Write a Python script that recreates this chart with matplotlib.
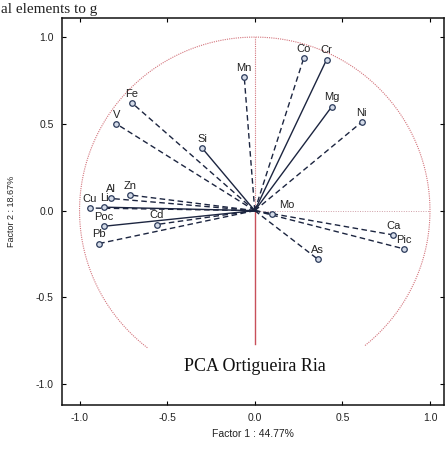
import numpy as np
import matplotlib
matplotlib.use("Agg")
import matplotlib.pyplot as plt

# ---- data (factor loadings) ----
variables = ['Mn', 'Fe', 'V', 'Si', 'Zn', 'Al', 'Cu', 'Li', 'Poc', 'Cd', 'Pb',
             'Co', 'Cr', 'Mg', 'Ni', 'Mo', 'Ca', 'Pic', 'As']
factor1 = [-0.06, -0.70, -0.79, -0.30, -0.71, -0.82, -0.94, -0.86, -0.86, -0.56, -0.89,
           0.28, 0.41, 0.44, 0.61, 0.10, 0.79, 0.85, 0.36]
factor2 = [0.77, 0.62, 0.50, 0.36, 0.09, 0.07, 0.015, 0.02, -0.09, -0.08, -0.19,
           0.88, 0.87, 0.60, 0.51, -0.02, -0.14, -0.22, -0.28]
solid_vars = ['Si', 'Cr', 'Mg', 'Poc', 'Li']

x_ticks = [-1.0, -0.5, 0.0, 0.5, 1.0]
y_ticks = [-1.0, -0.5, 0.0, 0.5, 1.0]
x_label = 'Factor 1 : 44.77%'
y_label = 'Factor 2 : 18.67%'
title_text = 'PCA Ortigueira Ria'
page_text = 'al elements to g'

plt.rcParams['font.family'] = ['Liberation Sans', 'DejaVu Sans']

fig = plt.figure(figsize=(4.46, 4.54), dpi=100)
ax = fig.add_axes([62 / 446, (454 - 405) / 454, (444 - 62) / 446, 387 / 454])
ax.set_xlim(-1.1, 1.08)
ax.set_ylim(-1.12, 1.11)

red = '#c8505a'
# unit circle (dotted), with gap at the bottom
th = np.radians(np.linspace(-51, 232.5, 400))
ax.plot(np.cos(th), np.sin(th), color=red, lw=0.8, ls=(0, (1, 1)), alpha=0.8, zorder=1)
# axes through the origin
ax.plot([0, 0], [0, 1.0], color=red, lw=0.8, ls=(0, (1, 1)), alpha=0.8, zorder=1)
ax.plot([0, 0], [0, -0.77], color=red, lw=1.0, zorder=1)
ax.plot([0, 1.0], [0, 0], color='#d0a0a8', lw=0.7, ls=(0, (1, 1.5)), zorder=1)

line_col = '#1c2540'
for name, fx, fy in zip(variables, factor1, factor2):
    ls = '-' if name in solid_vars else (0, (4, 2.5))
    ax.plot([0, fx], [0, fy], color=line_col, lw=1.0, ls=ls, zorder=2)
    ax.plot([fx], [fy], marker='o', ms=4, mfc='#d4dbe8', mec='#2b3a5a', mew=0.9,
            ls='none', zorder=3)
    dx = 0.0
    if name == 'Mo':
        dx = 0.06
    ax.annotate(name, (fx, fy), xytext=(dx * 175, 3), textcoords='offset points',
                ha='center', va='bottom', fontsize=8, color='#222222', zorder=4)

ax.text(0.0, -0.9, title_text, family=['Liberation Serif', 'DejaVu Serif'],
        fontsize=13, ha='center', va='center', color='#111111')

ax.set_xticks(x_ticks)
ax.set_yticks(y_ticks)
ax.set_xticklabels([f'{v:.1f}' for v in x_ticks])
ax.set_yticklabels([f'{v:.1f}' for v in y_ticks])
ax.tick_params(direction='in', length=3, width=0.8, top=True, right=True,
               labelsize=7.5, labelcolor='#222222', pad=6)
for sp in ax.spines.values():
    sp.set_linewidth(1.1)
    sp.set_color('#111111')

ax.set_xlabel(x_label, fontsize=7.5, color='#222222', labelpad=4)
ax.set_ylabel(y_label, fontsize=6.5, color='#222222', labelpad=14)

fig.text(0.003, 0.972, page_text, family=['Liberation Serif', 'DejaVu Serif'],
         fontsize=11, ha='left', va='baseline', color='#222222')

fig.savefig('out.png', dpi=100)
